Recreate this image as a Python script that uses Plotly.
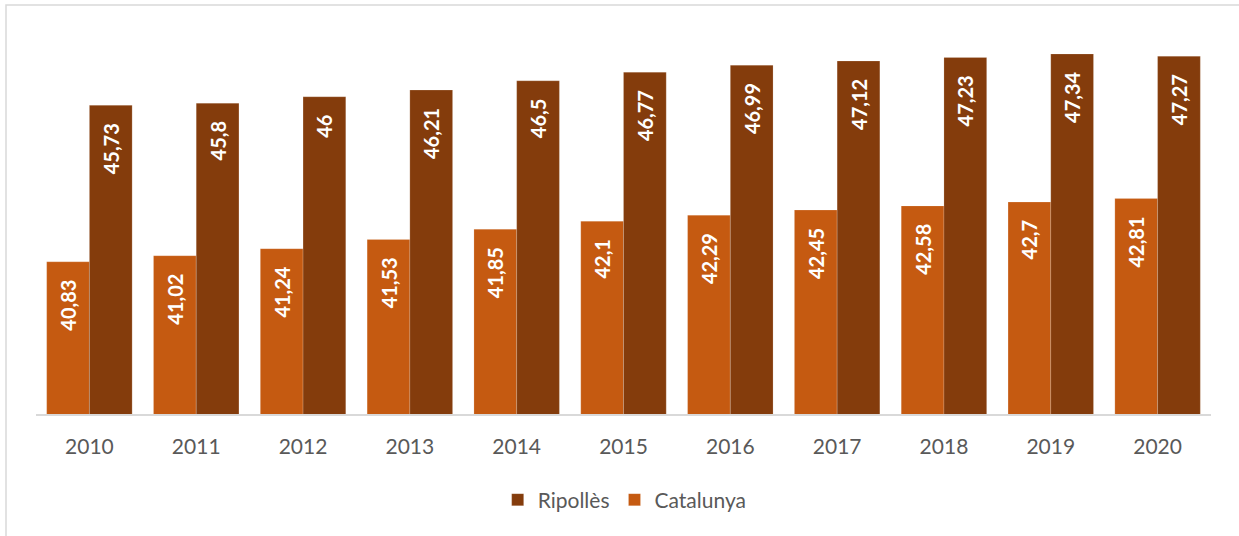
import plotly.graph_objects as go

years = ["2010", "2011", "2012", "2013", "2014", "2015", "2016", "2017", "2018", "2019", "2020"]
catalunya = [40.83, 41.02, 41.24, 41.53, 41.85, 42.10, 42.29, 42.45, 42.58, 42.70, 42.81]
ripolles = [45.73, 45.80, 46.00, 46.21, 46.50, 46.77, 46.99, 47.12, 47.23, 47.34, 47.27]


def fmt(v):
    s = ("%.2f" % v).rstrip("0").rstrip(".")
    return s.replace(".", ",") + "\u2002 "


FONT = "Lato, 'Open Sans', sans-serif"

fig = go.Figure()
fig.add_trace(go.Bar(
    name="Catalunya", x=years, y=catalunya,
    marker=dict(color="#C55A11", line=dict(color="rgba(255,255,255,0.35)", width=0.5)),
    text=[fmt(v) for v in catalunya], textposition="inside", insidetextanchor="end",
    textangle=-90, textfont=dict(family=FONT, size=20, color="white", weight="bold"),
    hoverinfo="skip", cliponaxis=False,
))
fig.add_trace(go.Bar(
    name="Ripollès", x=years, y=ripolles,
    marker=dict(color="#843C0C", line=dict(color="rgba(255,255,255,0.35)", width=0.5)),
    text=[fmt(v) for v in ripolles], textposition="inside", insidetextanchor="end",
    textangle=-90, textfont=dict(family=FONT, size=20, color="white", weight="bold"),
    hoverinfo="skip", cliponaxis=False,
))

L, R, T, B = 36, 28, 31, 122
W, H = 1239, 536
pw = W - L - R
ph = H - T - B

fig.update_layout(
    width=W, height=H,
    margin=dict(l=L, r=R, t=T, b=B, pad=0),
    paper_bgcolor="white", plot_bgcolor="white",
    barmode="group", bargap=0.2, bargroupgap=0,
    font=dict(family=FONT, size=21, color="#595959"),
    xaxis=dict(
        type="category", showgrid=False, showline=True, linecolor="#D9D9D9", linewidth=1.5,
        ticks="", tickfont=dict(family=FONT, size=21, color="#595959"), ticklabelstandoff=13,
    ),
    yaxis=dict(range=[36.06, 48.06], visible=False, showgrid=False, zeroline=False),
    showlegend=True,
    legend=dict(
        orientation="h", x=0.501, xanchor="center", y=(414 - 500) / ph, yanchor="middle",
        traceorder="reversed", font=dict(family=FONT, size=21, color="#595959"),
        itemclick=False, itemdoubleclick=False,
    ),
    shapes=[
        dict(type="rect", xref="paper", yref="paper",
             x0=(6 - L) / pw, x1=(1250 - L) / pw,
             y0=(414 - 550) / ph, y1=(414 - 5) / ph,
             line=dict(color="#D9D9D9", width=1.5), fillcolor="rgba(0,0,0,0)", layer="below"),
    ],
)

fig.write_html(
    "out.html",
    config={"displayModeBar": False, "staticPlot": True},
    post_script="document.body.style.margin='0';document.body.style.overflow='hidden';",
)
